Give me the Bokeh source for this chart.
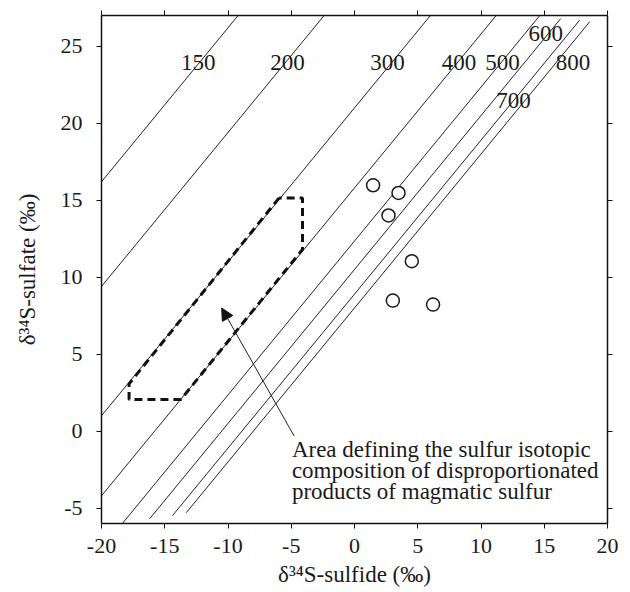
from bokeh.plotting import figure
from bokeh.models import Range1d, LinearAxis, Arrow, NormalHead, FixedTicker
from bokeh.core.properties import value
from bokeh.embed import file_html
from bokeh.resources import INLINE

# Isotherm labels (°C) and fractionation offsets (sulfate - sulfide, ‰)
temps = ["150", "200", "300", "400", "500", "600", "700", "800"]
delta = [36.2, 29.4, 21.0, 15.8, 12.35, 10.5, 8.9, 8.0]
line_ymin = [-6, -6, -6, -6, -6, -5.7, -5.5, -5.3]
line_ymax = [27, 27, 27, 27, 27, 26.8, 26.7, 26.6]
label_x = [-12.36, -5.30, 2.61, 8.27, 11.70, 15.12, 12.57, 17.28]
label_y = [23.96, 23.96, 23.96, 23.96, 23.96, 25.86, 21.47, 23.96]

# Samples
sulfide = [1.47, 3.48, 2.69, 4.53, 3.03, 6.21]
sulfate = [15.97, 15.47, 14.01, 11.04, 8.48, 8.22]

# Disproportionation field outline
area_x = [-5.96, -17.82, -17.82, -13.73, -4.11, -4.11, -5.96]
area_y = [15.15, 3.07, 2.05, 2.05, 11.8, 15.15, 15.15]

note_lines = ["Area defining the sulfur isotopic",
              "composition of disproportionated",
              "products of magmatic sulfur"]
note_x = -4.95
note_y0 = -1.17
note_step = 1.38
arrow_from = (-4.77, -0.32)
arrow_to = (-10.5, 8.0)

xticks = [-20, -15, -10, -5, 0, 5, 10, 15, 20]
yticks = [-5, 0, 5, 10, 15, 20, 25]

FONT = "Liberation Serif"
FS = "22px"

p = figure(width=630, height=592, output_backend="svg", toolbar_location=None,
           x_range=Range1d(-20, 20), y_range=Range1d(-6, 27),
           min_border_left=101, min_border_right=23, min_border_top=15, min_border_bottom=69)
p.grid.visible = False
p.outline_line_color = None
p.background_fill_color = "white"

# isotherm lines
x0 = [max(-20, lo - d) for lo, d in zip(line_ymin, delta)]
x1 = [min(20, hi - d) for hi, d in zip(line_ymax, delta)]
y0 = [x + d for x, d in zip(x0, delta)]
y1 = [x + d for x, d in zip(x1, delta)]
p.segment(x0=x0, y0=y0, x1=x1, y1=y1, line_color="#222222", line_width=1)

p.text(x=label_x, y=label_y, text=temps, text_align="center", text_baseline="middle",
       text_font=value(FONT), text_font_size="23px", text_color="#1a1a1a")

# dashed area
p.line(area_x, area_y, line_color="#111111", line_width=3, line_dash="8 5")

# samples
p.scatter(sulfide, sulfate, marker="circle", size=13, fill_color="white",
          line_color="#1a1a1a", line_width=1.5)

# arrow
p.add_layout(Arrow(end=NormalHead(size=12, fill_color="#111111", line_color="#111111"),
                   x_start=arrow_from[0], y_start=arrow_from[1],
                   x_end=arrow_to[0], y_end=arrow_to[1],
                   line_color="#222222", line_width=1))

note_y = [note_y0 - i * note_step for i in range(len(note_lines))]
p.text(x=[note_x] * len(note_lines), y=note_y, text=note_lines, text_align="left",
       text_baseline="alphabetic", text_font=value(FONT), text_font_size="23px",
       text_color="#1a1a1a")

def style(ax, ticks, labels=True):
    ax.ticker = FixedTicker(ticks=ticks)
    ax.minor_tick_line_color = None
    ax.major_tick_in = 0
    ax.major_tick_out = 5
    ax.axis_line_color = "#111111"
    ax.major_tick_line_color = "#111111"
    ax.axis_line_width = 1.5
    if labels:
        ax.major_label_overrides = {t: str(t) for t in ticks}
        ax.major_label_text_font = FONT
        ax.major_label_text_font_size = FS
        ax.major_label_text_color = "#1a1a1a"
        ax.axis_label_text_font = FONT
        ax.axis_label_text_font_size = "23px"
        ax.axis_label_text_font_style = "normal"
        ax.axis_label_text_color = "#1a1a1a"
    else:
        ax.major_label_overrides = {t: "" for t in ticks}
        ax.major_label_standoff = 0
        ax.major_label_text_font_size = "1px"

style(p.xaxis[0], xticks)
style(p.yaxis[0], yticks)
p.xaxis[0].axis_label = "δ³⁴S-sulfide (‰)"
p.yaxis[0].axis_label = "δ³⁴S-sulfate (‰)"
p.xaxis[0].major_label_standoff = 10
p.xaxis[0].axis_label_standoff = 6
p.yaxis[0].major_label_standoff = 14
p.yaxis[0].axis_label_standoff = 18

top = LinearAxis()
right = LinearAxis()
style(top, xticks, labels=False)
style(right, yticks, labels=False)
p.add_layout(top, "above")
p.add_layout(right, "right")

open("out.html", "w").write(file_html(p, INLINE))
